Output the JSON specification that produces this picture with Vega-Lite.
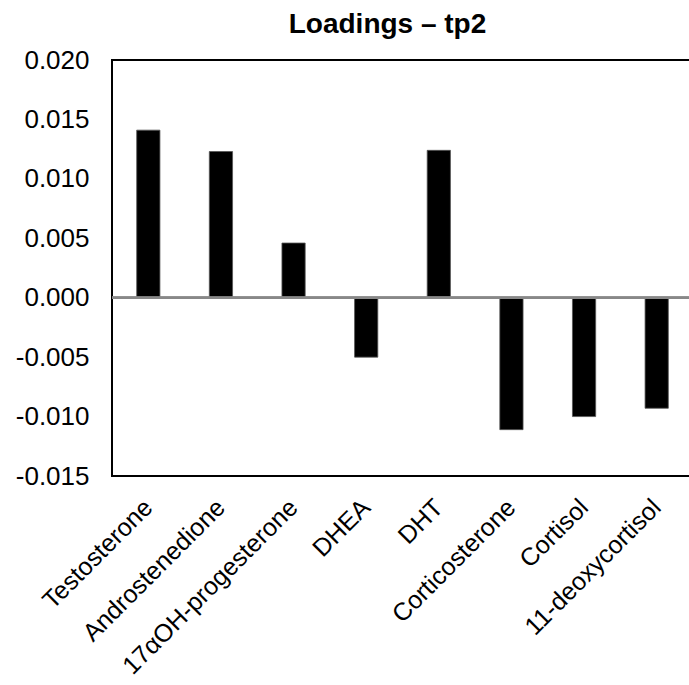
{
  "$schema": "https://vega.github.io/schema/vega-lite/v6.json",
  "autosize": {"type": "none"},
  "padding": {"left": 112, "top": 60, "right": 0, "bottom": 209},
  "width": 581,
  "height": 416,
  "background": "white",
  "config": {
    "font": "Liberation Sans",
    "view": {"stroke": "black", "strokeWidth": 2}
  },
  "title": {
    "text": "Loadings – tp2",
    "font": "Liberation Sans",
    "fontSize": 28,
    "fontWeight": "bold",
    "color": "black",
    "frame": "group",
    "anchor": "middle",
    "dx": -15,
    "offset": 8
  },
  "data": {
    "values": [
      {"hormone": "Testosterone", "loading": 0.0141},
      {"hormone": "Androstenedione", "loading": 0.0123},
      {"hormone": "17αOH-progesterone", "loading": 0.0046},
      {"hormone": "DHEA", "loading": -0.0050},
      {"hormone": "DHT", "loading": 0.0124},
      {"hormone": "Corticosterone", "loading": -0.0111},
      {"hormone": "Cortisol", "loading": -0.0100},
      {"hormone": "11-deoxycortisol", "loading": -0.0093}
    ]
  },
  "layer": [
    {
      "mark": {"type": "bar", "color": "black", "stroke": "#555555", "strokeWidth": 0.8},
      "encoding": {
        "x": {
          "field": "hormone",
          "type": "nominal",
          "sort": null,
          "scale": {"paddingInner": 0.68, "paddingOuter": 0.34},
          "axis": {
            "title": null,
            "labelAngle": -45,
            "labelAlign": "right",
            "labelBaseline": "middle",
            "labelFontSize": 25,
            "labelColor": "black",
            "labelPadding": 27,
            "ticks": false,
            "domain": false,
            "labelOverlap": false,
            "labelLimit": 400
          }
        },
        "y": {
          "field": "loading",
          "type": "quantitative",
          "scale": {"domain": [-0.015, 0.02], "nice": false, "zero": false},
          "axis": {
            "title": null,
            "values": [-0.015, -0.01, -0.005, 0, 0.005, 0.01, 0.015, 0.02],
            "labelExpr": "replace(format(datum.value, '.3f'), '−', '-')",
            "labelFontSize": 26,
            "labelColor": "black",
            "labelPadding": 23,
            "ticks": false,
            "domain": false,
            "grid": false
          }
        }
      }
    },
    {
      "mark": {"type": "rule", "color": "#888888", "strokeWidth": 2},
      "encoding": {"y": {"datum": 0}}
    }
  ]
}
